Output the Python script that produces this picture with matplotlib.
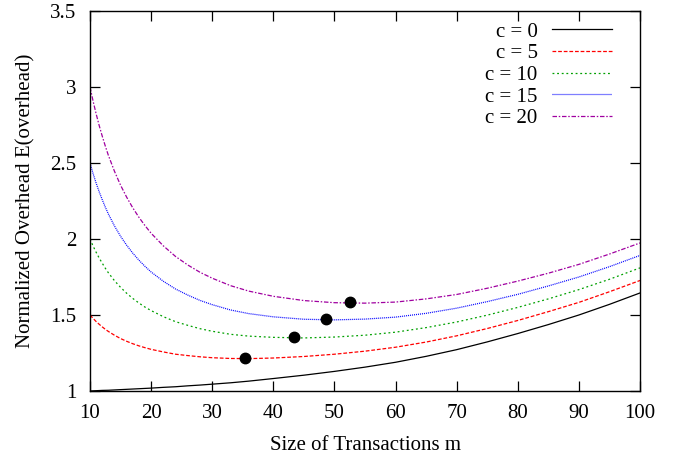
import matplotlib
matplotlib.use("Agg")
import matplotlib.pyplot as plt

# ---- data ----
m_vals = [10, 10.5, 11, 11.5, 12, 12.5, 13, 14, 15, 16, 17, 18, 19, 20, 22, 24, 26, 28,
          30, 33, 36, 40, 45, 50, 55, 60, 65, 70, 75, 80, 85, 90, 95, 100]

e_c0 = [1.000, 1.001, 1.002, 1.003, 1.004, 1.0045, 1.005, 1.007, 1.009, 1.011, 1.013,
        1.015, 1.017, 1.019, 1.024, 1.028, 1.034, 1.039, 1.045, 1.054, 1.065, 1.082,
        1.104, 1.129, 1.157, 1.189, 1.228, 1.272, 1.323, 1.378, 1.437, 1.500, 1.570, 1.645]

e_c5 = [1.500, 1.478, 1.457, 1.439, 1.422, 1.406, 1.392, 1.367, 1.345, 1.327, 1.311,
        1.297, 1.285, 1.274, 1.257, 1.242, 1.233, 1.225, 1.219, 1.214, 1.213, 1.217,
        1.227, 1.242, 1.262, 1.288, 1.322, 1.363, 1.411, 1.464, 1.522, 1.583, 1.653, 1.727]

e_c10 = [2.000, 1.954, 1.913, 1.875, 1.841, 1.808, 1.778, 1.726, 1.682, 1.643, 1.609,
         1.579, 1.552, 1.529, 1.489, 1.456, 1.432, 1.410, 1.393, 1.373, 1.361, 1.353,
         1.349, 1.355, 1.367, 1.387, 1.417, 1.454, 1.499, 1.550, 1.606, 1.667, 1.735, 1.810]

e_c15 = [2.500, 2.431, 2.368, 2.311, 2.259, 2.210, 2.165, 2.086, 2.018, 1.959, 1.907,
         1.861, 1.820, 1.783, 1.722, 1.671, 1.631, 1.596, 1.568, 1.533, 1.509, 1.488,
         1.472, 1.468, 1.473, 1.486, 1.511, 1.545, 1.588, 1.636, 1.691, 1.750, 1.818, 1.892]

e_c20 = [3.000, 2.908, 2.824, 2.747, 2.677, 2.612, 2.551, 2.446, 2.354, 2.275, 2.205,
         2.143, 2.088, 2.038, 1.955, 1.885, 1.829, 1.781, 1.742, 1.693, 1.657, 1.623,
         1.595, 1.581, 1.578, 1.585, 1.606, 1.635, 1.676, 1.723, 1.775, 1.833, 1.901, 1.974]

min_m = [35.4, 43.3, 48.6, 52.5]
min_e = [1.215, 1.353, 1.474, 1.585]

labels = ["c = 0", "c = 5", "c = 10", "c = 15", "c = 20"]
xticks = [10, 20, 30, 40, 50, 60, 70, 80, 90, 100]
yticks = [1, 1.5, 2, 2.5, 3, 3.5]
ytick_labels = ["1", "1.5", "2", "2.5", "3", "3.5"]

plt.rcParams['font.family'] = ['Liberation Serif', 'DejaVu Serif']
plt.rcParams['font.size'] = 15

fig = plt.figure(figsize=(6.84, 4.61), dpi=100)
ax = fig.add_axes([90 / 684, 70 / 461, 550 / 684, 380 / 461])

series = [e_c0, e_c5, e_c10, e_c15, e_c20]
colors = ["#000000", "#ff0000", "#00a000", "#0000ff", "#a000a0"]
styles = ["-", (0, (3.0, 1.5)), (0, (1.5, 2.2)), (0, (0.8, 0.8)), (0, (3.6, 1.4, 1.2, 1.4))]

for ey, col, ls, lab in zip(series, colors, styles, labels):
    ax.plot(m_vals, ey, color=col, linestyle=ls, linewidth=0.9, label=lab)

ax.plot(min_m, min_e, linestyle="none", marker="o", color="black", markersize=7.5)

ax.set_xlim(10, 100)
ax.set_ylim(1, 3.5)
ax.set_xticks(xticks)
ax.set_yticks(yticks)
ax.set_yticklabels(ytick_labels)
ax.tick_params(direction="in", length=7, width=0.9, top=True, right=True, labelsize=15)
ax.tick_params(axis="x", pad=9)
ax.tick_params(axis="y", pad=10)
for sp in ax.spines.values():
    sp.set_linewidth(1.0)

ax.set_xlabel("Size of Transactions m", fontsize=15, labelpad=10)
ax.set_ylabel("Normalized Overhead E(overhead)", fontsize=15, labelpad=10)

ax.legend(loc="upper right", bbox_to_anchor=(522 / 550, 369 / 380), frameon=False,
          markerfirst=False, handlelength=2.9, handletextpad=0.67, labelspacing=0.1,
          fontsize=15, borderaxespad=0, borderpad=0)

fig.savefig("out.png", dpi=100)
